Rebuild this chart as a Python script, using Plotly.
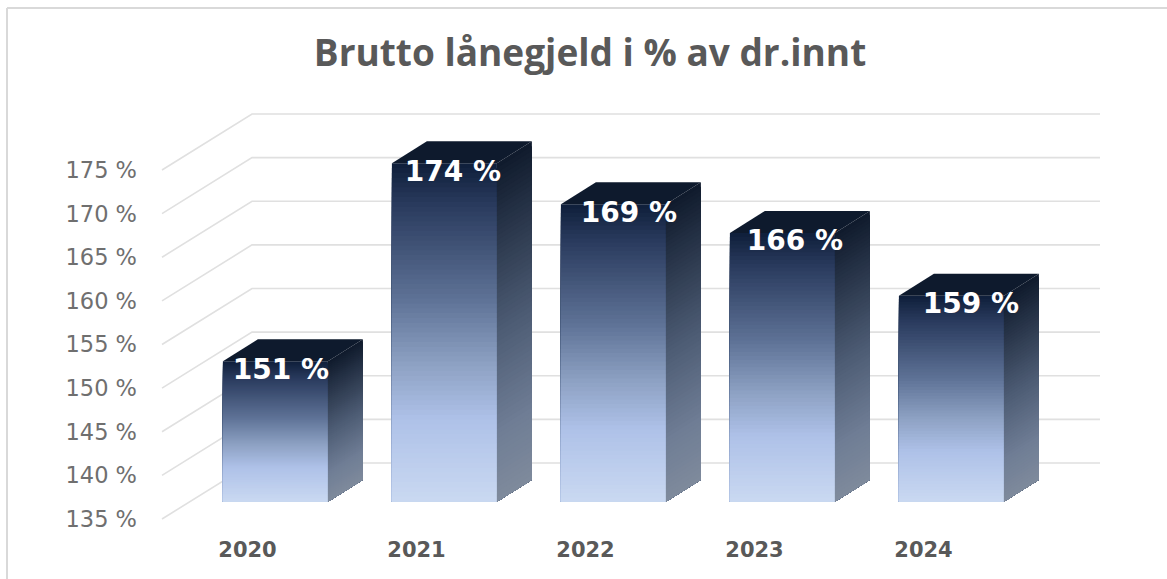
import plotly.graph_objects as go

# ---- data ----
years = ["2020", "2021", "2022", "2023", "2024"]
values = [151.1, 173.8, 169.1, 165.8, 158.6]
tick_values = [135, 140, 145, 150, 155, 160, 165, 170, 175]
title = "Brutto lånegjeld i % av dr.innt"

# ---- layout constants (pixels) ----
W, H = 1167, 579
L, R, T, B = 142, 1110, 90, 535      # plot area in the page
X0_PX, STEP_PX = 247.5, 169.0        # category 0 position and spacing
Y135_PX, UNIT_PX = 519.0, 8.725      # pixel of 135 % and pixels per %

def dx(px): return px / STEP_PX
def dy(px): return px / UNIT_PX

WALL_DX, WALL_DY = dx(90), dy(56)    # front of left wall to back wall
BAR_DX, BAR_DY = dx(27.9), dy(17.3)  # bar front plane behind axis plane
BAR_W = dx(105)
SIDE_DX, SIDE_DY = dx(35), dy(22)    # bar depth
WALL_RIGHT = (1100 - X0_PX) / STEP_PX
LABEL_NUDGE = [5.5, 8.5, 15.5, 12.5, 19.5]
LABEL_DROP = 10.5

FRONT_STOPS = [(0, "#10203c"), (0.12, "#2a3b5e"), (0.4, "#5e7296"),
               (0.6, "#8ea2c4"), (0.76, "#aec1e8"), (1, "#c9d8f1")]
SIDE_STOPS = [(0, "#101b2d"), (0.5, "#4d5c74"), (0.8, "#6f7d95"), (1, "#7e8a9c")]
TOP_COLOR = "#0e1a2d"
N = 70

def hex2rgb(c): return [int(c[i:i + 2], 16) for i in (1, 3, 5)]

def ramp(stops, t):
    for (a, ca), (b, cb) in zip(stops, stops[1:]):
        if t <= b:
            f = (t - a) / (b - a)
            c = [p + (q - p) * f for p, q in zip(hex2rgb(ca), hex2rgb(cb))]
            return "rgb(%d,%d,%d)" % tuple(round(v) for v in c)
    return stops[-1][1]

def face(xs, ys, color):
    return go.Scatter(x=xs, y=ys, mode="lines", fill="toself", fillcolor=color,
                      line=dict(width=0), hoverinfo="skip", showlegend=False)

fig = go.Figure()

# walls / gridlines
gx, gy = [], []
x_front = (162 - X0_PX) / STEP_PX
for v in tick_values:
    gx += [x_front, x_front + WALL_DX, WALL_RIGHT, None]
    gy += [v, v + WALL_DY, v + WALL_DY, None]
fig.add_trace(go.Scatter(x=gx, y=gy, mode="lines", hoverinfo="skip",
                         line=dict(color="#e0e0e0", width=1.6), showlegend=False))

# bars: each gradient is painted from tallest to shortest so no seams show
base = tick_values[0] + BAR_DY
for i, v in enumerate(values):
    left = i + BAR_DX - BAR_W / 2
    right = left + BAR_W
    top = v + BAR_DY
    for k in range(N):
        t = k / (N - 1)
        lv = top - (top - base) * k / N
        fig.add_trace(face([left, right, right, left, left],
                           [base, base, lv, lv, base], ramp(FRONT_STOPS, t)))
        fig.add_trace(face([right, right + SIDE_DX, right + SIDE_DX, right, right],
                           [base, base + SIDE_DY, lv + SIDE_DY, lv, base], ramp(SIDE_STOPS, t)))
    fig.add_trace(face([left, right, right + SIDE_DX, left + SIDE_DX, left],
                       [top, top, top + SIDE_DY, top + SIDE_DY, top], TOP_COLOR))

# value labels
fig.add_trace(go.Scatter(
    x=[i + BAR_DX + dx(n) for i, n in enumerate(LABEL_NUDGE)],
    y=[v + BAR_DY - dy(LABEL_DROP) for v in values],
    mode="text", text=[f"{round(v)} %" for v in values], textposition="middle center",
    textfont=dict(family="DejaVu Sans", size=28, color="#ffffff", weight="bold"),
    hoverinfo="skip", showlegend=False))

def xp(px): return (px - L) / (R - L)
def yp(py): return 1 - (py - T) / (B - T)

fig.update_layout(
    width=W, height=H, autosize=False,
    margin=dict(l=L, r=W - R, t=T, b=H - B),
    paper_bgcolor="white", plot_bgcolor="white",
    showlegend=False,
    title=dict(text=title, x=590 / W, xanchor="center", y=1 - 53 / H, yanchor="middle",
               font=dict(family="Open Sans", size=37, color="#595959", weight="bold")),
    xaxis=dict(range=[(L - X0_PX) / STEP_PX, (R - X0_PX) / STEP_PX],
               tickmode="array", tickvals=list(range(len(years))), ticktext=years,
               showgrid=False, zeroline=False, showline=False, ticks="",
               ticklabelstandoff=0,
               tickfont=dict(family="DejaVu Sans", size=21, color="#595959", weight="bold")),
    yaxis=dict(range=[135 - (B - Y135_PX) / UNIT_PX, 135 + (Y135_PX - T) / UNIT_PX],
               tickmode="array", tickvals=tick_values,
               ticktext=[f"{t} %" for t in tick_values],
               showgrid=False, zeroline=False, showline=False, ticks="",
               ticklabelstandoff=4,
               tickfont=dict(family="DejaVu Sans", size=22.5, color="#6f6f6f")),
    shapes=[
        dict(type="line", xref="paper", yref="paper", x0=xp(7), x1=xp(7), y0=yp(8), y1=yp(579),
             line=dict(color="#d9d9d9", width=2)),
        dict(type="line", xref="paper", yref="paper", x0=xp(7), x1=xp(1167), y0=yp(8), y1=yp(8),
             line=dict(color="#d9d9d9", width=2)),
    ],
)

fig.write_html("out.html", config={"displayModeBar": False},
               post_script="document.body.style.margin='0';document.body.style.overflow='hidden';")
